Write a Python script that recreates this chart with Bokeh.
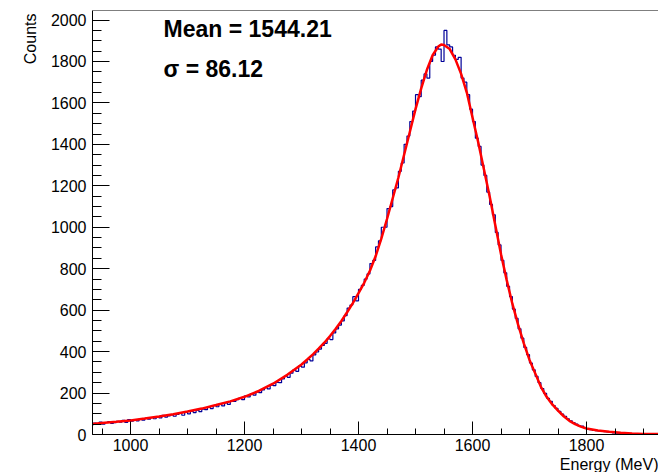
import numpy as np
from bokeh.plotting import figure
from bokeh.models import Range1d, SingleIntervalTicker, Label, Span, Title
from bokeh.embed import file_html
from bokeh.resources import INLINE

# ---- data ----
bin_start = 930
bin_width = 5
counts = [
    48, 55, 52, 60, 50, 58, 62, 54, 57, 63,
    60, 68, 58, 72, 64, 70, 66, 75, 69, 78,
    74, 82, 76, 85, 80, 92, 84, 90, 95, 88,
    97, 104, 93, 108, 100, 112, 106, 118, 110, 122,
    120, 131, 125, 140, 134, 147, 138, 152, 145, 160,
    160, 168, 176, 168, 186, 182, 196, 190, 206, 202,
    215, 226, 220, 238, 236, 252, 250, 268, 280, 276,
    296, 312, 305, 330, 325, 346, 362, 355, 384, 398,
    412, 430, 440, 462, 458, 490, 510, 528, 548, 574,
    610, 625, 665, 645, 700, 720, 750, 775, 825, 840,
    905, 935, 1000, 1000, 1090, 1100, 1180, 1190, 1270, 1310,
    1400, 1440, 1510, 1560, 1640, 1630, 1710, 1740, 1720, 1800,
    1830, 1870, 1860, 1800, 1950, 1880, 1870, 1830, 1810, 1820,
    1720, 1700, 1640, 1570, 1510, 1430, 1390, 1300, 1250, 1170,
    1110, 1060, 975, 915, 840, 780, 715, 665, 605, 560,
    510, 465, 420, 385, 345, 312, 280, 250, 222, 198,
    175, 160, 140, 126, 112, 98, 88, 75, 66, 57,
    50, 42, 40, 32, 25, 24, 20, 18, 17, 15,
    14, 12, 10, 8, 7, 6, 5, 4, 3, 0,
    0, 0, 0, 0, 0, 0, 0, 0, 0, 0,
]

fit_energy = [930, 950, 975, 1000, 1025, 1050, 1075, 1100, 1125, 1150, 1175, 1200,
              1225, 1250, 1275, 1300, 1310, 1320, 1330, 1340, 1350, 1360, 1370, 1380,
              1390, 1400, 1410, 1420, 1430, 1440, 1450, 1460, 1470, 1480, 1490, 1500,
              1510, 1520, 1530, 1540, 1545, 1550, 1560, 1570, 1580, 1590, 1600, 1610,
              1620, 1630, 1640, 1650, 1660, 1670, 1680, 1690, 1700, 1710, 1720, 1730,
              1740, 1750, 1760, 1770, 1780, 1790, 1800, 1820, 1840, 1860, 1880, 1900,
              1930, 1960]
fit_counts = [50, 55, 61, 68, 77, 87, 98, 111, 125, 142, 160, 182,
              210, 245, 288, 338, 362, 387, 414, 443, 475, 510, 548, 590,
              634, 682, 732, 790, 860, 945, 1040, 1140, 1240, 1350, 1460, 1570,
              1670, 1760, 1830, 1872, 1882, 1880, 1860, 1810, 1740, 1650, 1530, 1410,
              1280, 1150, 1010, 870, 745, 630, 530, 440, 360, 295, 230, 182,
              145, 115, 88, 66, 50, 38, 29, 19, 13, 8, 5, 3,
              2, 1]

mean_text = "Mean = 1544.21"
sigma_text = "\u03c3 = 86.12"
x_title = "Energy (MeV)"
y_title = "Counts"

x_lo, x_hi = 933.3, 1926.3
y_lo, y_hi = 0, 2046

centers = bin_start + bin_width * (np.arange(len(counts)) + 0.5)

FONT = "Liberation Sans"

p = figure(width=658, height=472, x_range=Range1d(x_lo, x_hi), y_range=Range1d(y_lo, y_hi),
           output_backend="svg", toolbar_location=None,
           min_border_left=92, min_border_right=0, min_border_top=10, min_border_bottom=38)

p.background_fill_color = "white"
p.border_fill_color = "white"
p.outline_line_color = None
p.xgrid.visible = False
p.ygrid.visible = False

# histogram outline
p.step(x=centers, y=counts, mode="center", line_color="#000099", line_width=1.2)
# fit
p.line(x=fit_energy, y=fit_counts, line_color="#ff0000", line_width=2.5)

# top frame line
p.add_layout(Span(location=y_hi, dimension="width", line_color="black", line_width=1))

for ax in (p.xaxis[0], p.yaxis[0]):
    ax.axis_line_color = "black"
    ax.major_tick_line_color = "black"
    ax.minor_tick_line_color = "black"
    ax.major_tick_out = 0
    ax.minor_tick_out = 0
    ax.major_label_text_font = FONT
    ax.major_label_text_font_size = "16px"
    ax.major_label_text_color = "black"

p.xaxis.ticker = SingleIntervalTicker(interval=200, num_minor_ticks=4)
p.yaxis.ticker = SingleIntervalTicker(interval=200, num_minor_ticks=4)
p.xaxis.major_tick_in = 13
p.xaxis.minor_tick_in = 6
p.yaxis.major_tick_in = 17
p.yaxis.minor_tick_in = 9
p.xaxis.major_label_standoff = 4
p.yaxis.major_label_standoff = 6

# axis titles (ROOT style: right/top aligned)
p.add_layout(Title(text=x_title, align="right", text_font=FONT, text_font_size="16px",
                   text_font_style="normal", text_color="black", standoff=0, offset=0),
             "below")
p.add_layout(Title(text=y_title, align="right", text_font=FONT, text_font_size="16px",
                   text_font_style="normal", text_color="black", standoff=17, offset=3),
             "left")

p.add_layout(Label(x=1058, y=1959, text=mean_text, text_font=FONT, text_font_size="23px",
                   text_font_style="bold", text_color="black", text_baseline="middle",
                   text_align="left"))
p.add_layout(Label(x=1058, y=1766, text=sigma_text, text_font=FONT, text_font_size="23px",
                   text_font_style="bold", text_color="black", text_baseline="middle",
                   text_align="left"))

open("out.html", "w").write(file_html(p, INLINE))
